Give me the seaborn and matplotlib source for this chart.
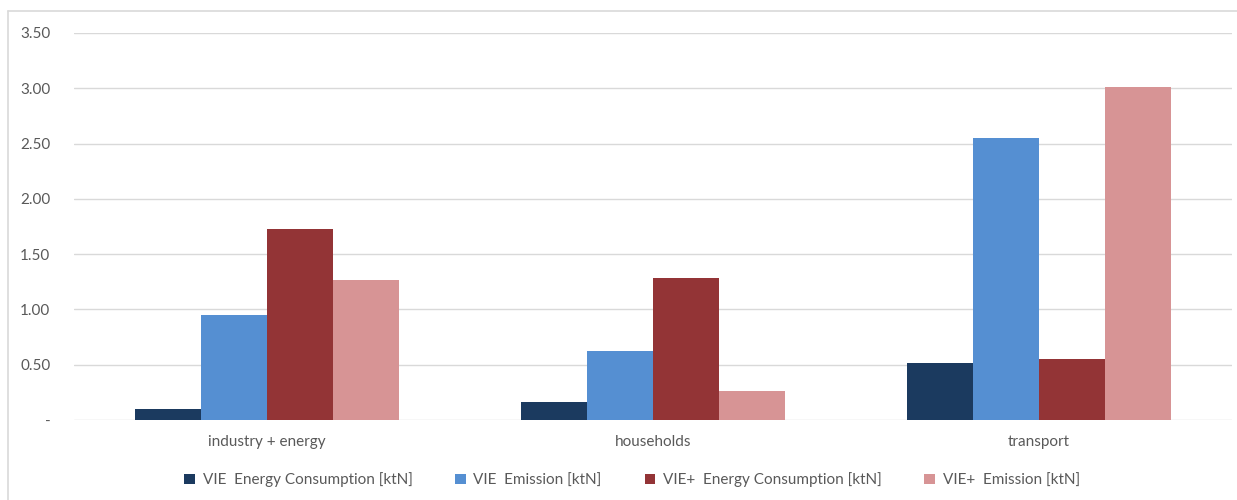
import matplotlib
matplotlib.use("Agg")
import matplotlib.pyplot as plt
import matplotlib.lines as mlines
import seaborn as sns
import pandas as pd

categories = ["industry + energy", "households", "transport"]
series_names = [
    "VIE  Energy Consumption [ktN]",
    "VIE  Emission [ktN]",
    "VIE+  Energy Consumption [ktN]",
    "VIE+  Emission [ktN]",
]
vie_energy = [0.10, 0.16, 0.52]
vie_emission = [0.95, 0.62, 2.55]
vieplus_energy = [1.73, 1.28, 0.55]
vieplus_emission = [1.27, 0.26, 3.01]
colors = ["#1B3A5F", "#558FD2", "#933436", "#D79495"]
yticks = [0, 0.5, 1.0, 1.5, 2.0, 2.5, 3.0, 3.5]
ytick_labels = ["-", "0.50", "1.00", "1.50", "2.00", "2.50", "3.00", "3.50"]

rows = []
for name, vals in zip(series_names, [vie_energy, vie_emission, vieplus_energy, vieplus_emission]):
    for cat, v in zip(categories, vals):
        rows.append({"category": cat, "series": name, "value": v})
df = pd.DataFrame(rows)

sns.set_theme(style="white")
plt.rcParams["font.family"] = ["Lato", "DejaVu Sans"]

W, H = 1237, 500
fig = plt.figure(figsize=(W / 100, H / 100), dpi=100)
ax = fig.add_axes([74 / W, 1 - 420 / H, (1232 - 74) / W, (420 - 33) / H])

sns.barplot(data=df, x="category", y="value", hue="series", order=categories,
            hue_order=series_names, palette=colors, width=0.685, gap=0,
            saturation=1, ax=ax, legend=True, edgecolor="none", zorder=3)

ax.set_ylim(0, 3.5)
ax.set_xlim(-0.5, 2.5)
ax.set_yticks(yticks)
ax.set_yticklabels(ytick_labels)
ax.yaxis.grid(True, color="#D9D9D9", linewidth=1.0, zorder=0)
ax.set_axisbelow(True)
for s in ax.spines.values():
    s.set_visible(False)
ax.tick_params(axis="both", length=0, labelsize=11, labelcolor="#595959")
ax.tick_params(axis="y", pad=17)
ax.tick_params(axis="x", pad=11)
ax.set_xlabel("")
ax.set_ylabel("")

handles, labels = ax.get_legend_handles_labels()
leg = ax.legend(handles, labels, loc="center", ncol=4, frameon=False, fontsize=11,
                handlelength=0.7, handleheight=0.7, handletextpad=0.5,
                columnspacing=2.8, labelcolor="#595959")
leg.set_bbox_to_anchor((632 / W, 1 - 480 / H), transform=fig.transFigure)

# chart-area border: left and top edges
fig.add_artist(mlines.Line2D([8 / W, 8 / W], [0, 1 - 11 / H], transform=fig.transFigure,
                             color="#D9D9D9", linewidth=1.2))
fig.add_artist(mlines.Line2D([8 / W, 1], [1 - 11 / H, 1 - 11 / H], transform=fig.transFigure,
                             color="#D9D9D9", linewidth=1.2))

fig.savefig("out.png", dpi=100, facecolor="white")
